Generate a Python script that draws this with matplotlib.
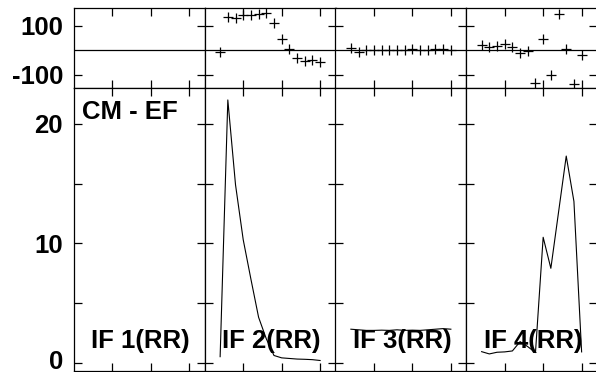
import matplotlib
matplotlib.use("Agg")
import matplotlib.pyplot as plt
import matplotlib.transforms as mtransforms

# Channel numbers and per-IF data (IF 1 has no data)
channels = [2, 3, 4, 5, 6, 7, 8, 9, 10, 11, 12, 13, 14, 15]
if_labels = ["IF 1(RR)", "IF 2(RR)", "IF 3(RR)", "IF 4(RR)"]

phase_if1 = []
phase_if2 = [-5, 134, 132, 145, 145, 148, 152, 112, 48, 4, -30, -43, -39, -46]
phase_if3 = [8, -5, 0, 0, 0, 0, 0, 0, 5, 0, 0, 5, 5, 0]
phase_if4 = [21, 14, 17, 25, 14, -12, -2, -132, 45, -99, 148, 5, -135, -19]

amp_if1 = []
amp_if2 = [0.5, 22.0, 14.9, 10.3, 7.0, 3.8, 2.0, 0.6, 0.4, 0.35, 0.3, 0.28, 0.25, 0.18]
amp_if3 = [2.8, 2.75, 2.7, 2.7, 2.72, 2.7, 2.75, 2.7, 2.72, 2.7, 2.75, 2.8, 2.85, 2.8]
amp_if4 = [0.92, 0.73, 0.87, 0.9, 0.98, 1.76, 1.34, 0.84, 10.5, 7.9, 12.6, 17.3, 13.5, 0.9]

phases = [phase_if1, phase_if2, phase_if3, phase_if4]
amps = [amp_if1, amp_if2, amp_if3, amp_if4]

plt.rcParams['font.family'] = ['Liberation Sans', 'DejaVu Sans']
plt.rcParams['font.weight'] = 'bold'

W, H = 596, 372
fig = plt.figure(figsize=(W / 100, H / 100), dpi=100)

left, pw = 74, 130.75
for i in range(4):
    x0 = (left + i * pw) / W
    axp = fig.add_axes([x0, 1 - 88 / H, pw / W, 80 / H])
    axa = fig.add_axes([x0, 1 / H, pw / W, 283 / H])

    # phase panel
    axp.axhline(0, color='black', lw=0.9)
    if phases[i]:
        axp.plot(channels[:len(phases[i])], phases[i], '+', color='black',
                 markersize=6.5, markeredgewidth=0.9)
    axp.set_xlim(0, 17)
    axp.set_ylim(-153, 172)
    axp.set_yticks([-100, 100])

    # amplitude panel
    if amps[i]:
        axa.plot(channels[:len(amps[i])], amps[i], color='black', lw=0.8)
    axa.set_xlim(0, 17)
    axa.set_ylim(-0.7, 23.0)
    axa.set_yticks([0, 5, 10, 15, 20])
    axa.text(2.27, 1.2, if_labels[i], fontsize=18.5, fontweight='bold',
             va='baseline', ha='left')

    for ax in (axp, axa):
        ax.set_xticks([5, 10, 15])
        ax.tick_params(direction='in', length=6, width=0.9, top=True, right=True,
                       labelbottom=False, labelsize=18.5, pad=8)
        for s in ax.spines.values():
            s.set_linewidth(0.9)
        ax.tick_params(labelleft=(i == 0))

    if i == 0:
        axa.set_yticklabels(['0', '', '10', '', '20'])
        axp.set_yticklabels(['-100', '100'])
        axa.text(1.0, 20.37, "CM - EF", fontsize=18.5, fontweight='bold',
                 va='baseline', ha='left')
        # nudge the bottom "0" label up a little so it stays inside the figure
        lab0 = axa.get_yticklabels()[0]
        shift = mtransforms.ScaledTranslation(0, 3 / 100, fig.dpi_scale_trans)
        lab0.set_transform(lab0.get_transform() + shift)

fig.savefig("out.png", dpi=100)
